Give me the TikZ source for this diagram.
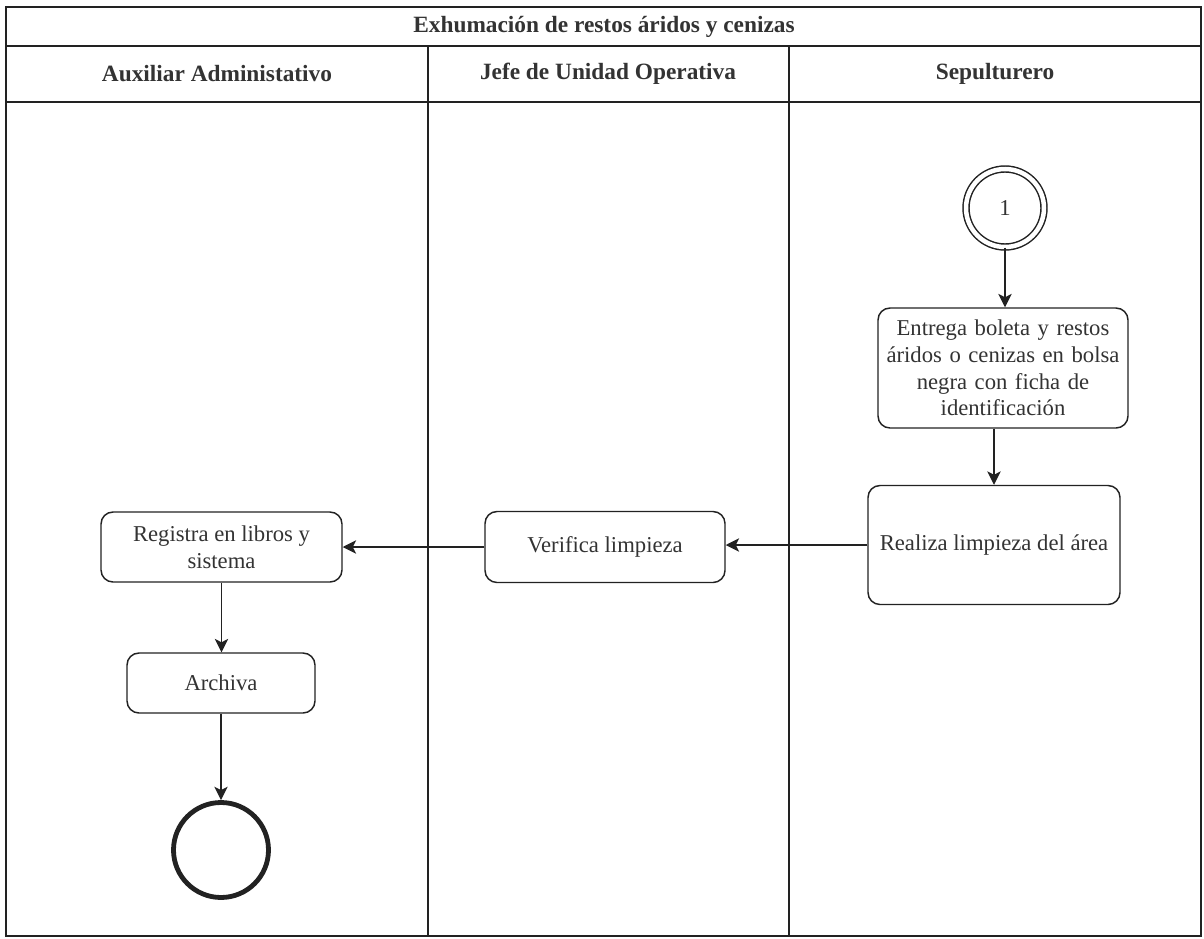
\documentclass[tikz,border=0pt]{standalone}
\usepackage{fontspec}
\setmainfont{Liberation Serif}
\usetikzlibrary{arrows.meta}
\definecolor{ink}{HTML}{222222}
\definecolor{txt}{HTML}{333333}
\begin{document}
\begin{tikzpicture}[x=0.75pt,y=-0.75pt,
  lane/.style={draw=ink,line width=1.3pt},
  head/.style={font=\fontsize{17.5}{20}\selectfont\bfseries,text=txt},
  task/.style={draw=ink,line width=1.1pt,rounded corners=9pt,fill=white,
    align=center,text=txt,inner sep=2pt,
    font=\fontsize{17}{20}\selectfont},
  flow/.style={draw=ink,line width=1.1pt,-{Stealth[length=10pt,width=10pt,inset=2.5pt]}}]
\useasboundingbox (0,0) rectangle (1204,939);
\fill[white] (0,0) rectangle (1204,939);

% pool frame, title row, header row and lane dividers
\draw[lane] (6,7) rectangle (1201,936);
\draw[lane] (6,46) -- (1201,46);
\draw[lane] (6,102) -- (1201,102);
\draw[lane] (428,46) -- (428,936);
\draw[lane] (789,46) -- (789,936);

\node[head] (title) at (604,27) {Exhumación de restos áridos y cenizas};
\node[head] (h1) at (217,74) {Auxiliar Administativo};
\node[head] (h2) at (608,74) {Jefe de Unidad Operativa};
\node[head] (h3) at (995,74) {Sepulturero};

% start connector (double circle)
\node[circle,draw=ink,line width=1.1pt,double,double distance=4.5pt*0.75,
  minimum size=78*0.75pt,inner sep=0pt,text=txt,
  font=\fontsize{17}{20}\selectfont] (start) at (1005,208) {1};

% activities
\node[task,minimum width=250*0.75pt,minimum height=120*0.75pt,text width=240*0.75pt]
  (entrega) at (1003,368)
  {Entrega boleta y restos\\áridos o cenizas en bolsa\\negra con ficha de\\identificación};
\node[task,minimum width=252*0.75pt,minimum height=119*0.75pt]
  (realiza) at (994,545) {Realiza limpieza del área};
\node[task,minimum width=240*0.75pt,minimum height=71*0.75pt]
  (verifica) at (605,547) {Verifica limpieza};
\node[task,minimum width=241*0.75pt,minimum height=70*0.75pt]
  (registra) at (221.5,547) {Registra en libros y\\sistema};
\node[task,minimum width=188*0.75pt,minimum height=60*0.75pt]
  (archiva) at (221,683) {Archiva};

% end event
\node[circle,draw=ink,line width=3.6pt,minimum size=95*0.75pt,inner sep=0pt]
  (fin) at (221,850) {};

% sequence flows
\draw[flow] (start.south) -- (start.south |- entrega.north);
\draw[flow] (entrega.south -| realiza.north) -- (realiza.north);
\draw[flow] (realiza.west) -- (realiza.west -| verifica.east);
\draw[flow] (verifica.west) -- (verifica.west -| registra.east);
\draw[flow] (registra.south) -- (registra.south |- archiva.north);
\draw[flow] (archiva.south) -- (fin.north);
\end{tikzpicture}
\end{document}
